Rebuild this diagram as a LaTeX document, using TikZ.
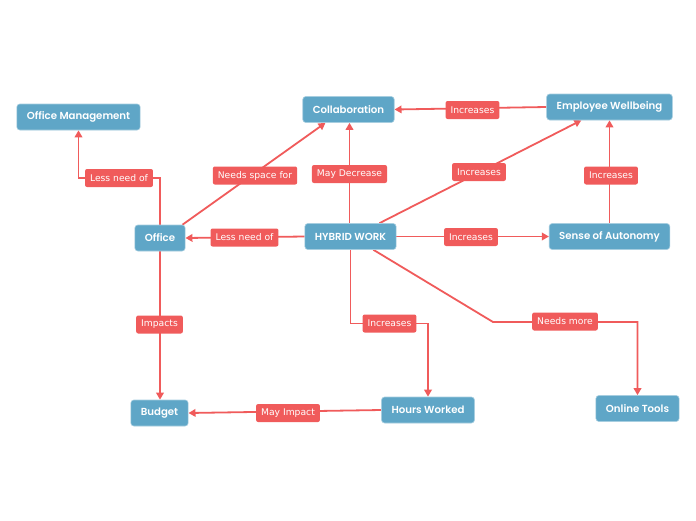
\documentclass[tikz,border=0pt]{standalone}
\usepackage{fontspec}
\newfontfamily\conceptfont{Poppins SemiBold}
\newfontfamily\relfont{DejaVu Sans}
\usetikzlibrary{arrows.meta,backgrounds}
\definecolor{mapblue}{HTML}{5FA6C7}
\definecolor{mapred}{HTML}{F05B5B}
\tikzset{
  concept/.style={rectangle, rounded corners=3pt, fill=mapblue, draw=mapblue!55!white,
    line width=0.6pt, text=white, font=\conceptfont\fontsize{10.2}{12}\selectfont,
    minimum height=26pt, inner xsep=10pt, inner ysep=0pt},
  relation/.style={rectangle, rounded corners=2pt, fill=mapred, text=white,
    font=\relfont\fontsize{9.2}{11}\selectfont, minimum height=18pt, inner xsep=5pt, inner ysep=0pt},
  link/.style={draw=mapred, line width=1.8pt, -{Triangle[length=7pt,width=7.5pt]}}
}
\begin{document}
\begin{tikzpicture}[x=1pt, y=-1pt]
  \useasboundingbox (0,0) rectangle (696,520);
  % los conceptos
  \node[concept] (offmgmt) at (78.5,117) {Office Management};
  \node[concept] (collab) at (348.5,109.5) {Collaboration};
  \node[concept] (wellbeing) at (609.5,107) {Employee Wellbeing};
  \node[concept] (office) at (160,238) {Office};
  \node[concept] (hybrid) at (350.5,236.5) {HYBRID WORK};
  \node[concept] (autonomy) at (609.5,236.5) {Sense of Autonomy};
  \node[concept] (budget) at (159.5,413) {Budget};
  \node[concept] (hours) at (428,410) {Hours Worked};
  \node[concept] (tools) at (637.5,408.5) {Online Tools};
  % las etiquetas
  \node[relation] (lessmgmt) at (119,178) {Less need of};
  \node[relation] (space) at (255,175.5) {Needs space for};
  \node[relation] (decrease) at (349.5,174) {May Decrease};
  \node[relation] (incollab) at (472.5,110) {Increases};
  \node[relation] (inwell) at (479,172) {Increases};
  \node[relation] (inauto) at (611,175.5) {Increases};
  \node[relation] (lessoffice) at (244.5,237.5) {Less need of};
  \node[relation] (inhybrid) at (471,237) {Increases};
  \node[relation] (impacts) at (159.5,324.5) {Impacts};
  \node[relation] (inhours) at (389.5,323.5) {Increases};
  \node[relation] (needs) at (565,321.5) {Needs more};
  \node[relation] (mayimpact) at (288,413) {May Impact};
  \coordinate (bend) at (493,322);
  % las flechas
  \begin{scope}[on background layer]
    \fill[white] (0,0) rectangle (696,520);
    \draw[link] (office.north) |- (lessmgmt.center) -| (offmgmt.south);
    \draw[link] ([xshift=-3pt]office.north east) -- ([xshift=23pt]collab.south west);
    \draw[link] (decrease.center |- hybrid.north) -- (decrease.center |- collab.south);
    \draw[link] (wellbeing.west) -- (collab.east);
    \draw[link] ([xshift=-17pt]hybrid.north east) -- ([xshift=35pt]wellbeing.south west);
    \draw[link] (autonomy.north) -- (wellbeing.south);
    \draw[link] (hybrid.west) -- (office.east);
    \draw[link] (hybrid.east) -- (autonomy.west);
    \draw[link] (office.south) -- (office.south |- budget.north);
    \draw[link] (hybrid.south) |- (inhours.center) -| (hours.north);
    \draw[link] ([xshift=-23pt]hybrid.south east) -- (bend) -| (tools.north);
    \draw[link] (hours.west) -- (budget.east);
  \end{scope}
\end{tikzpicture}
\end{document}
